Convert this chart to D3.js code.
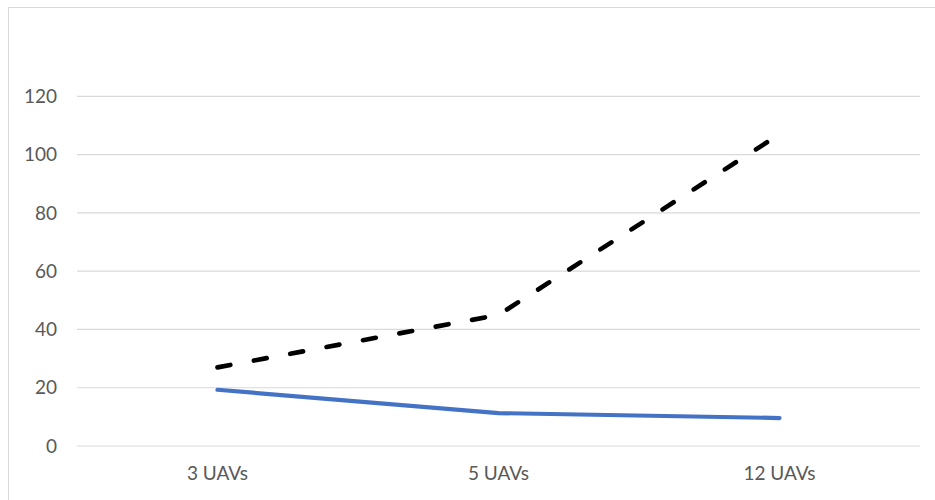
<!DOCTYPE html>
<html>
<head>
<meta charset="utf-8">
<script src="https://cdn.jsdelivr.net/npm/d3@7"></script>
<style>
  html, body { margin: 0; padding: 0; background: #fff; }
  svg { display: block; }
</style>
</head>
<body>
<div id="chart"></div>
<script>
// Datos
const categories = ["3 UAVs", "5 UAVs", "12 UAVs"]
const solidValues = [19.3, 11.3, 9.6]
const dashedValues = [27, 45, 107]
const yTicks = [0, 20, 40, 60, 80, 100, 120]

const width = 935, height = 500
const margin = { top: 96.4, right: 15, bottom: 54, left: 77 }

const svg = d3.select("#chart")
    .append("svg")
    .attr("width", width)
    .attr("height", height)
    .attr("viewBox", [0, 0, width, height])

// Borde del área del gráfico
svg.append("rect")
    .attr("x", 8.5)
    .attr("y", 7.5)
    .attr("width", width + 10)
    .attr("height", height + 10)
    .attr("fill", "none")
    .attr("stroke", "#d9d9d9")
    .attr("stroke-width", 1)

const xScale = d3.scaleBand()
    .domain(categories)
    .range([margin.left, 920])

const yScale = d3.scaleLinear()
    .domain([0, 120])
    .range([446, margin.top])

// Líneas de cuadrícula
svg.append("g")
    .selectAll("line")
    .data(yTicks)
    .join("line")
    .attr("x1", margin.left)
    .attr("x2", 920)
    .attr("y1", d => yScale(d))
    .attr("y2", d => yScale(d))
    .attr("stroke", "#d9d9d9")
    .attr("stroke-width", 1.2)

// Eje Y
svg.append("g")
    .attr("transform", `translate(${margin.left - 20},0)`)
    .call(d3.axisLeft(yScale).tickValues(yTicks).tickSize(0).tickPadding(0))
    .call(g => g.select(".domain").remove())
    .call(g => g.selectAll(".tick text")
        .attr("fill", "#595959")
        .style("font-family", "Lato, 'Open Sans', sans-serif")
        .style("font-size", "19px"))

// Eje X
svg.append("g")
    .attr("transform", `translate(0,446)`)
    .call(d3.axisBottom(xScale).tickSize(0).tickPadding(21))
    .call(g => g.select(".domain").remove())
    .call(g => g.selectAll(".tick text")
        .attr("fill", "#595959")
        .style("font-family", "Lato, 'Open Sans', sans-serif")
        .style("font-size", "19px"))

const line = d3.line()
    .x((d, i) => xScale(categories[i]) + xScale.bandwidth() / 2)
    .y(d => yScale(d))

// Serie continua (azul)
svg.append("path")
    .datum(solidValues)
    .attr("d", line)
    .attr("fill", "none")
    .attr("stroke", "#4472c4")
    .attr("stroke-width", 4.2)
    .attr("stroke-linecap", "round")
    .attr("stroke-linejoin", "round")

// Serie discontinua (negra)
svg.append("path")
    .datum(dashedValues)
    .attr("d", line)
    .attr("fill", "none")
    .attr("stroke", "#000")
    .attr("stroke-width", 4.7)
    .attr("stroke-linecap", "round")
    .attr("stroke-linejoin", "round")
    .attr("stroke-dasharray", "13,24")
</script>
</body>
</html>
